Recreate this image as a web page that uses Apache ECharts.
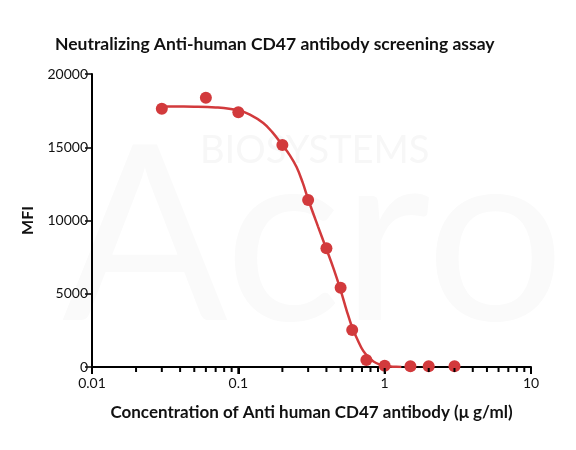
<!DOCTYPE html>
<html>
<head>
<meta charset="utf-8">
<script src="https://cdn.jsdelivr.net/npm/echarts@6/dist/echarts.min.js"></script>
<style>
  html, body { margin: 0; padding: 0; background: #fff; }
  #chart { width: 576px; height: 450px; }
</style>
</head>
<body>
<div id="chart"></div>
<script>
// measured points
const pointX = [0.03, 0.06, 0.1, 0.2, 0.3, 0.4, 0.5, 0.6, 0.75, 1, 1.5, 2, 3];
const pointY = [17620, 18380, 17390, 15150, 11400, 8100, 5410, 2520, 480, 80, 50, 50, 50];

// fitted curve
const curveX = [0.03, 0.05, 0.07, 0.1, 0.12, 0.148, 0.17, 0.2, 0.225, 0.25, 0.275, 0.3, 0.35, 0.4, 0.45, 0.5, 0.55, 0.6, 0.65, 0.714, 0.78, 0.838, 0.92, 1.0, 1.1, 1.2, 1.3];
const curveY = [17780, 17770, 17720, 17520, 17220, 16650, 16050, 15150, 14450, 13650, 12600, 11450, 9600, 8050, 6650, 5250, 3850, 2700, 1900, 1100, 650, 380, 180, 90, 40, 15, 0];

// tick positions of the log axis
const majorTicks = [0.01, 0.1, 1, 10];
const minorTicks = [0.02, 0.03, 0.04, 0.05, 0.06, 0.07, 0.08, 0.09,
  0.2, 0.3, 0.4, 0.5, 0.6, 0.7, 0.8, 0.9,
  2, 3, 4, 5, 6, 7, 8, 9];

const red = '#d23a3c';
const font = 'Lato, "Open Sans", sans-serif';

const chart = echarts.init(document.getElementById('chart'));

// short tick line under the x axis at each value
function tickRenderer(len) {
  return function (params, api) {
    const p = api.coord([api.value(0), 0]);
    return {
      type: 'line',
      shape: { x1: p[0], y1: p[1] + 1, x2: p[0], y2: p[1] + 1 + len },
      style: { stroke: '#000', lineWidth: 2 }
    };
  };
}

const option = {
  animation: false,
  backgroundColor: '#fff',
  title: {
    text: 'Neutralizing Anti-human CD47 antibody screening assay',
    left: 50,
    top: 30,
    textStyle: { fontFamily: font, fontWeight: 'bold', fontSize: 17.5, color: '#111' }
  },
  graphic: [
    {
      type: 'text', z: -10, left: 62, top: 118,
      style: { text: 'Acro', fontFamily: 'Lato', fontSize: 245, fontWeight: 'normal', fill: '#fafafa' }
    },
    {
      type: 'text', z: -9, left: 200, top: 132,
      style: { text: 'BIOSYSTEMS', fontFamily: 'Lato', fontSize: 38, fill: '#f7f7f7' }
    }
  ],
  grid: { left: 92, right: 45, top: 74, bottom: 83 },
  xAxis: {
    type: 'log',
    logBase: 10,
    min: 0.01,
    max: 10,
    name: 'Concentration of Anti human CD47 antibody (\u03bc g/ml)',
    nameLocation: 'middle',
    nameGap: 37,
    nameTextStyle: { fontFamily: font, fontWeight: 'bold', fontSize: 17, color: '#111' },
    axisLine: { show: true, onZero: false, lineStyle: { color: '#000', width: 2 } },
    axisTick: { show: true, length: 7, lineStyle: { color: '#000', width: 2 } },
    axisLabel: {
      margin: 9,
      fontFamily: font, fontSize: 14, color: '#111',
      formatter: v => String(v)
    },
    splitLine: { show: false }
  },
  yAxis: {
    type: 'value',
    min: 0,
    max: 20000,
    interval: 5000,
    name: 'MFI',
    nameLocation: 'middle',
    nameGap: 56,
    nameTextStyle: { fontFamily: font, fontWeight: 'bold', fontSize: 16, color: '#111' },
    axisLine: { show: true, onZero: false, lineStyle: { color: '#000', width: 2 } },
    axisTick: { show: true, length: 7, lineStyle: { color: '#000', width: 1.5 } },
    axisLabel: { margin: 4, fontFamily: font, fontSize: 14, color: '#111', formatter: v => String(v) },
    splitLine: { show: false }
  },
  series: [
    {
      type: 'custom',
      silent: true,
      clip: false,
      renderItem: tickRenderer(6),
      data: majorTicks.map(x => [x, 0]),
      z: 5
    },
    {
      type: 'custom',
      silent: true,
      clip: false,
      renderItem: tickRenderer(4),
      data: minorTicks.map(x => [x, 0]),
      z: 5
    },
    {
      type: 'line',
      data: curveX.map((x, i) => [x, curveY[i]]),
      smooth: 0.4,
      showSymbol: false,
      symbol: 'none',
      lineStyle: { color: red, width: 2.5 },
      z: 3
    },
    {
      type: 'scatter',
      data: pointX.map((x, i) => [x, pointY[i]]),
      symbol: 'circle',
      symbolSize: 12,
      itemStyle: { color: red, opacity: 1 },
      z: 4
    }
  ]
};

chart.setOption(option);
</script>
</body>
</html>
